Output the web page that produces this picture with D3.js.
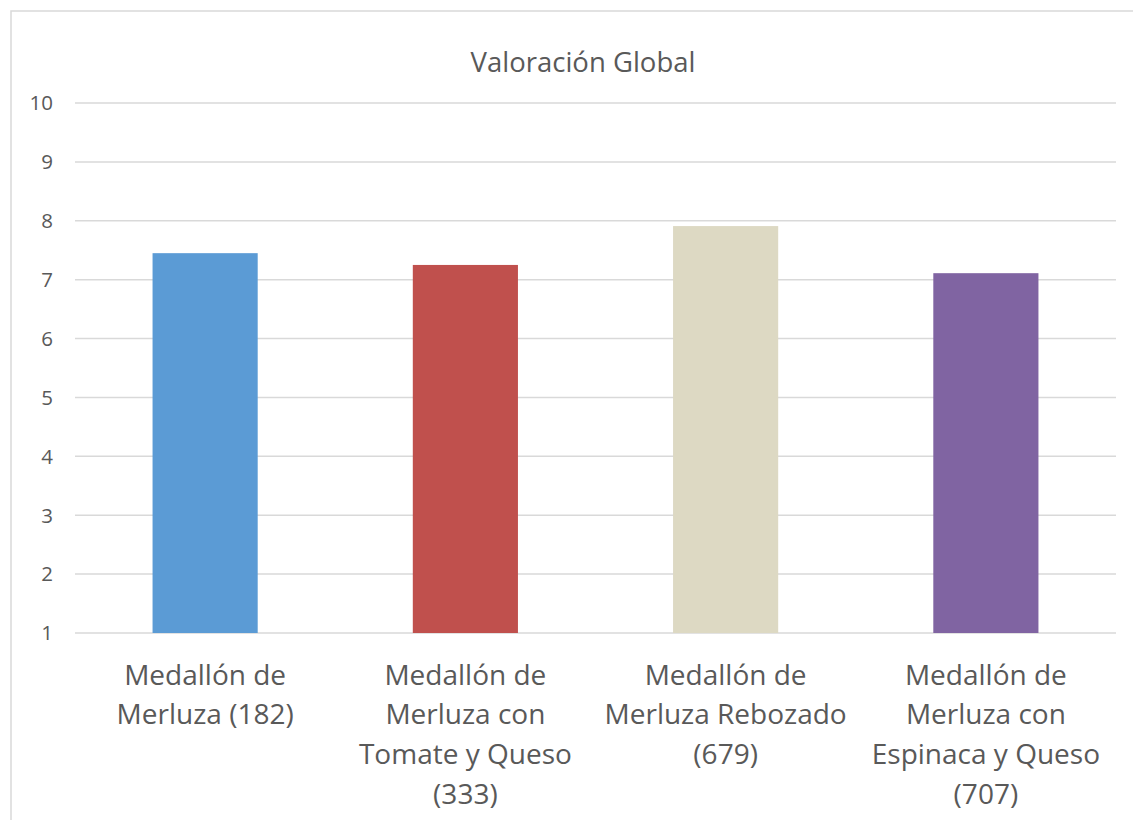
<!DOCTYPE html>
<html><head><meta charset="utf-8">
<script src="https://cdn.jsdelivr.net/npm/d3@7"></script>
<style>body{margin:0;background:#fff;} svg{display:block;}</style>
</head><body>
<svg id="c" width="1133" height="820"></svg>
<script>
const title = "Valoración Global";
const categories = [
  ["Medallón de", "Merluza (182)"],
  ["Medallón de", "Merluza con", "Tomate y Queso", "(333)"],
  ["Medallón de", "Merluza Rebozado", "(679)"],
  ["Medallón de", "Merluza con", "Espinaca y Queso", "(707)"]
];
const values = [7.45, 7.25, 7.91, 7.11];
const colors = ["#5b9bd5", "#c0504d", "#ddd9c3", "#8064a2"];
const yTicks = [1,2,3,4,5,6,7,8,9,10];

const svg = d3.select("#c");
const font = "'Open Sans', 'Noto Sans', sans-serif";
const textColor = "#595959";

svg.append("rect").attr("x",11).attr("y",11).attr("width",1140).attr("height",830)
  .attr("fill","#fff").attr("stroke","#d9d9d9").attr("stroke-width",1.5);

const x = d3.scaleBand().domain(d3.range(categories.length)).range([75,1116]).paddingInner(0.596).paddingOuter(0.298);
const y = d3.scaleLinear().domain([1,10]).range([633,103]);

const g = svg.append("g");
g.append("g").selectAll("line").data(yTicks).join("line")
  .attr("x1",75).attr("x2",1116).attr("y1",d=>y(d)).attr("y2",d=>y(d))
  .attr("stroke","#d9d9d9").attr("stroke-width",1.5);

g.append("g").selectAll("rect").data(values).join("rect")
  .attr("x",(d,i)=>x(i)).attr("width",x.bandwidth())
  .attr("y",d=>y(d)).attr("height",d=>y(1)-y(d))
  .attr("fill",(d,i)=>colors[i]);

g.append("g").selectAll("text").data(yTicks).join("text")
  .attr("x",53).attr("y",d=>y(d)).attr("dy","0.36em").attr("text-anchor","end")
  .attr("font-family",font).attr("font-size",20.5).attr("fill",textColor).text(d=>d);

const cat = g.append("g").selectAll("text").data(categories).join("text")
  .attr("text-anchor","middle").attr("font-family",font).attr("font-size",28).attr("fill",textColor)
  .attr("transform",(d,i)=>`translate(${x(i)+x.bandwidth()/2},0)`);
cat.selectAll("tspan").data(d=>d).join("tspan")
  .attr("x",0).attr("y",(d,j)=>684.5+j*39.7).text(d=>d);

svg.append("text").attr("x",583).attr("y",72).attr("text-anchor","middle")
  .attr("font-family",font).attr("font-size",27.5).attr("fill",textColor).text(title);
</script>
</body></html>
